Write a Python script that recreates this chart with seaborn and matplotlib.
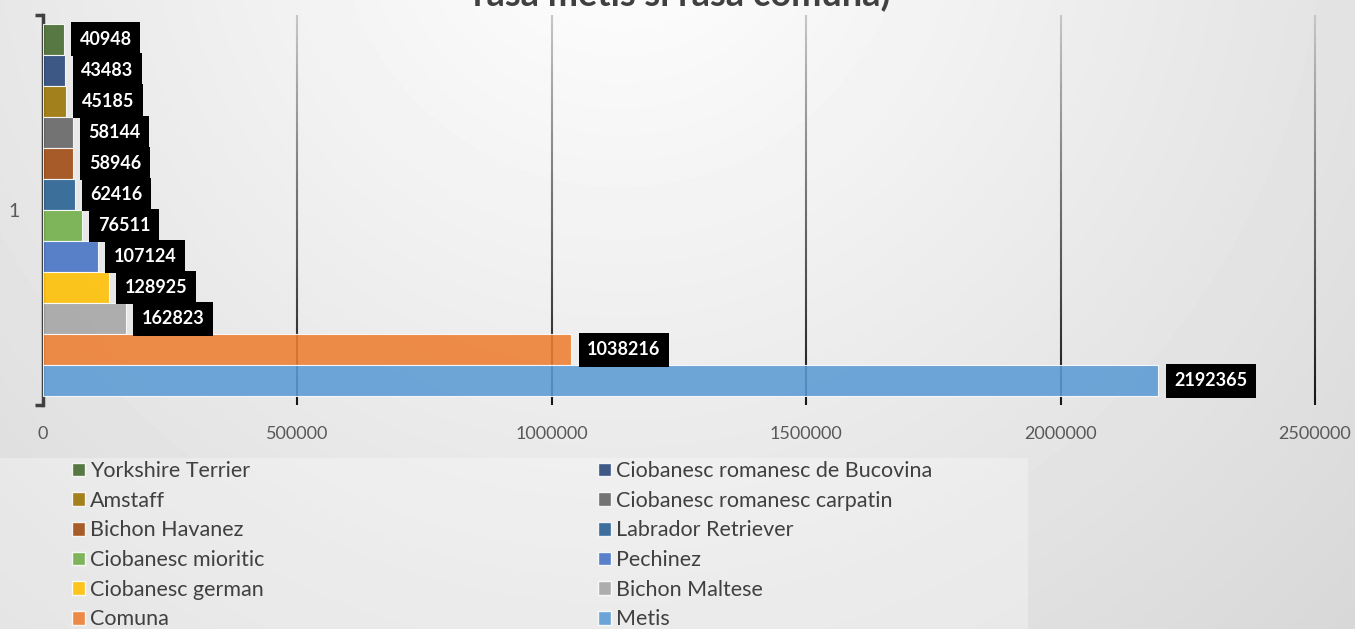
import matplotlib
matplotlib.use('Agg')
import matplotlib.pyplot as plt
import matplotlib.transforms as mtransforms
import seaborn as sns
import pandas as pd
import numpy as np
from matplotlib.patches import Patch, Rectangle
from matplotlib.collections import LineCollection

# Data (top bar first)
breeds = ['Yorkshire Terrier', 'Ciobanesc romanesc de Bucovina', 'Amstaff',
          'Ciobanesc romanesc carpatin', 'Bichon Havanez', 'Labrador Retriever',
          'Ciobanesc mioritic', 'Pechinez', 'Ciobanesc german', 'Bichon Maltese',
          'Comuna', 'Metis']
counts = [40948, 43483, 45185, 58144, 58946, 62416, 76511, 107124, 128925,
          162823, 1038216, 2192365]
colors = ['#43682B', '#264478', '#997300', '#636363', '#9E480E', '#255E91',
          '#70AD47', '#4472C4', '#FFC000', '#A5A5A5', '#ED7D31', '#5B9BD5']
category = '1'
x_ticks = [0, 500000, 1000000, 1500000, 2000000, 2500000]
title = 'rasa metis si rasa comuna)'

df = pd.DataFrame({'rasa': breeds, 'numar': counts, 'cat': category})

sns.set_theme(style='white')
plt.rcParams['font.family'] = ['Lato', 'DejaVu Sans']

W, H = 1355, 629
fig = plt.figure(figsize=(W / 100, H / 100), dpi=100)

# gradient background like the slide
bg = fig.add_axes([0, 0, 1, 1], zorder=-10)
yy, xx = np.mgrid[0:H, 0:W]
shade = 1 - 0.00015 * np.hypot(xx - 620, yy + 100)
bg.imshow(shade, cmap='gray', vmin=0, vmax=1, aspect='auto', interpolation='bilinear')
bg.axis('off')

# lighter legend area
fig.add_artist(Rectangle((0, 0), 1028 / W, 171 / H, transform=fig.transFigure,
                         facecolor='white', alpha=0.3, edgecolor='none', zorder=-5))

ax = fig.add_axes([43 / W, 1 - 405 / H, 1272 / W, 390 / H])
ax.patch.set_alpha(0)

sns.barplot(data=df, x='numar', y='cat', hue='rasa', hue_order=breeds,
            palette=colors, saturation=1, orient='h', width=0.954, gap=0,
            dodge=True, alpha=0.88, edgecolor='white', linewidth=0.8,
            legend=False, ax=ax, zorder=3)

for cont, v in zip(ax.containers, counts):
    ax.bar_label(cont, labels=[str(v)], padding=11.5, color='white',
                 fontsize=13, fontweight='bold', zorder=5,
                 bbox=dict(boxstyle='square,pad=0.47', facecolor='black', edgecolor='none'))

ax.set_xlim(0, 2500000)
ax.set_ylim(0.5, -0.5)

# vertical gridlines fading from light grey (top) to black (bottom)
trans = mtransforms.blended_transform_factory(ax.transData, ax.transAxes)
n = 40
ys = np.linspace(0, 1, n + 1)
segs, cols = [], []
for xv in x_ticks[1:]:
    for k in range(n):
        segs.append([(xv, ys[k]), (xv, ys[k + 1])])
        g = 0.08 + 0.7 * (ys[k] + ys[k + 1]) / 2
        cols.append((g, g, g))
lc = LineCollection(segs, colors=cols, linewidths=1.5, transform=trans,
                    zorder=1, clip_on=False)
ax.add_collection(lc)

ax.set_xticks(x_ticks)
ax.set_xticklabels([str(t) for t in x_ticks])
ax.tick_params(axis='x', length=0, pad=15, labelsize=13, labelcolor='#595959')
ax.set_yticks([0])
ax.set_yticklabels([category])
ax.set_yticks([-0.5, 0.5], minor=True)
ax.tick_params(axis='y', which='major', length=0, pad=17, labelsize=14, labelcolor='#595959')
ax.tick_params(axis='y', which='minor', left=True, length=6, width=2.5, color='#404040')
ax.set_xlabel('')
ax.set_ylabel('')
for s in ['top', 'right', 'bottom']:
    ax.spines[s].set_visible(False)
ax.spines['left'].set_color('#404040')
ax.spines['left'].set_linewidth(2.5)

# title (cut off at the top like the reference)
fig.text(682 / W, 1 - 6 / H, title, ha='center', va='baseline',
         fontsize=26, fontweight='bold', color='#404040')

# legend in two columns, filled row by row
handles = [Patch(facecolor=c, edgecolor='white', alpha=0.88, label=b)
           for b, c in zip(breeds, colors)]
for col, x0 in enumerate([72, 598]):
    fig.legend(handles=handles[col::2], loc='upper left',
               bbox_to_anchor=(x0 / W, 1 - 461 / H), frameon=False,
               fontsize=15.5, handlelength=0.6, handleheight=0.6,
               handletextpad=0.25, labelspacing=0.45, borderpad=0,
               borderaxespad=0, labelcolor='#404040')

fig.savefig('out.png', dpi=100)
